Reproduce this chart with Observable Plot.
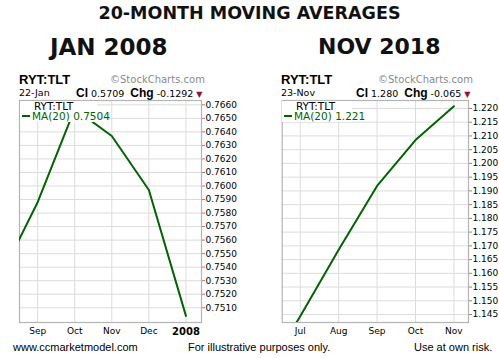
<!DOCTYPE html>
<html>
<head>
<meta charset="utf-8">
<script src="https://cdn.jsdelivr.net/npm/d3@7"></script>
<script src="https://cdn.jsdelivr.net/npm/@observablehq/plot@0.6"></script>
<style>
  html, body { margin: 0; padding: 0; background: #fff; }
  #wrap { position: relative; width: 499px; height: 359px; overflow: hidden; font-family: "Liberation Sans", Arial, sans-serif; }
  .abs { position: absolute; white-space: nowrap; line-height: 1; }
  .title { font-family: "DejaVu Sans", sans-serif; font-weight: bold; color: #111; }
  .sym { font-family: "Liberation Sans", Arial, sans-serif; font-weight: bold; font-size: 13px; color: #000; }
  .sc { font-family: "DejaVu Sans", sans-serif; font-size: 10px; color: #8a8a8a; }
  .date { font-family: "DejaVu Sans", sans-serif; font-size: 9.5px; color: #000; }
  .quote { font-family: "DejaVu Sans", sans-serif; font-size: 9.5px; color: #000; }
  .quote b { font-family: "Liberation Sans", Arial, sans-serif; font-size: 12px; }
  .tri { color: #8b1538; font-size: 8px; }
  .leg { font-family: "DejaVu Sans", sans-serif; font-size: 10.5px; }
  .legbox { background: #fff; }
  .dash { display: inline-block; width: 8px; height: 2px; background: #006400; vertical-align: middle; margin-right: 2px; position: relative; top: -1px; }
  .foot { font-family: "Liberation Sans", Arial, sans-serif; font-size: 11px; color: #000; }
  .chart { position: absolute; }
</style>
</head>
<body>
<div id="wrap">
  <div class="abs title" style="left:0;width:499px;text-align:center;top:5px;font-size:17.5px;">20-MONTH MOVING AVERAGES</div>
  <div class="abs title" style="left:50px;top:36px;font-size:23px;">JAN 2008</div>
  <div class="abs title" style="left:318px;top:36px;font-size:22px;">NOV 2018</div>

  <div class="abs sym" style="left:19px;top:73px;">RYT:TLT</div>
  <div class="abs sc" style="left:110px;top:75px;">©StockCharts.com</div>
  <div class="abs date" style="left:19px;top:88px;">22-Jan</div>
  <div class="abs quote" style="left:76px;top:87px;"><b>Cl</b> 0.5709 &nbsp;<b>Chg</b> -0.1292 <span class="tri">▼</span></div>

  <div class="abs sym" style="left:281px;top:73px;">RYT:TLT</div>
  <div class="abs sc" style="left:378px;top:75px;">©StockCharts.com</div>
  <div class="abs date" style="left:281px;top:88px;">23-Nov</div>
  <div class="abs quote" style="left:356px;top:87px;"><b>Cl</b> 1.280 &nbsp;<b>Chg</b> -0.065 <span class="tri">▼</span></div>

  <div id="left" class="chart" style="left:0;top:92px;"></div>
  <div id="right" class="chart" style="left:250px;top:92px;"></div>

  <div class="abs leg legbox" style="left:20px;top:100.5px;width:77px;height:21px;">
    <div style="padding-left:14px;color:#000;">RYT:TLT</div>
    <div style="padding-left:2px;color:#006400;margin-top:0px;"><span class="dash"></span>MA(20) 0.7504</div>
  </div>
  <div class="abs leg legbox" style="left:282px;top:100.5px;width:70px;height:21px;">
    <div style="padding-left:14px;color:#000;">RYT:TLT</div>
    <div style="padding-left:2px;color:#006400;margin-top:0px;"><span class="dash"></span>MA(20) 1.221</div>
  </div>

  <div class="abs foot" style="left:13px;top:342px;">www.ccmarketmodel.com</div>
  <div class="abs foot" style="left:188px;top:342px;">For illustrative purposes only.</div>
  <div class="abs foot" style="left:414px;top:342px;">Use at own risk.</div>
</div>
<script>
// ---- data ----
const leftMonths = ["Aug", "Sep", "Oct", "Nov", "Dec", "2008"];
const leftMA = [0.7533, 0.7588, 0.7657, 0.7637, 0.7597, 0.7504];
const leftYTicks = [0.7510, 0.7520, 0.7530, 0.7540, 0.7550, 0.7560, 0.7570, 0.7580,
                    0.7590, 0.7600, 0.7610, 0.7620, 0.7630, 0.7640, 0.7650, 0.7660];

const rightMonths = ["Jun", "Jul", "Aug", "Sep", "Oct", "Nov"];
const rightMA = [1.121, 1.1444, 1.1686, 1.1918, 1.2085, 1.2208];
const rightYTicks = [1.145, 1.150, 1.155, 1.160, 1.165, 1.170, 1.175, 1.180,
                     1.185, 1.190, 1.195, 1.200, 1.205, 1.210, 1.215, 1.220];

const lineColor = "#006400";
const gridColor = "#dcdcdc";
const frameColor = "#b4b4b4";

function makeChart({months, values, yTicks, fmt, xDomain, yDomain, width, marginLeft, marginRight, boldLabel}) {
  const data = values.map((v, i) => ({i, v}));
  const xt = d3.range(1, months.length);
  const svg = Plot.plot({
    width, height: 248,
    marginLeft, marginRight, marginTop: 8, marginBottom: 18,
    style: {fontFamily: "DejaVu Sans, sans-serif", fontSize: "9px", color: "#000", background: "transparent"},
    x: {domain: xDomain, ticks: xt, tickFormat: i => months[i], tickSize: 0, tickPadding: 5, label: null},
    y: {domain: yDomain, ticks: yTicks, tickFormat: fmt, axis: "right", tickSize: 3, tickPadding: 1, label: null},
    marks: [
      Plot.gridY(yTicks, {stroke: gridColor, strokeOpacity: 1}),
      Plot.gridX(xt, {stroke: gridColor, strokeOpacity: 1}),
      Plot.frame({stroke: frameColor, strokeWidth: 1.2}),
      Plot.line(data, {x: "i", y: "v", stroke: lineColor, strokeWidth: 2, clip: true})
    ]
  });
  if (boldLabel) {
    d3.select(svg).selectAll("text").filter(function() { return this.textContent === boldLabel; })
      .attr("font-weight", "bold").attr("font-size", "10px");
  }
  d3.select(svg).selectAll("[aria-label='y-axis tick']").attr("stroke", "#888");
  return svg;
}

document.getElementById("left").appendChild(makeChart({
  months: leftMonths, values: leftMA, yTicks: leftYTicks, fmt: ".4f",
  xDomain: [0.51, 5.42], yDomain: [0.74991, 0.76632],
  width: 250, marginLeft: 19, marginRight: 49, boldLabel: "2008"
}));
document.getElementById("right").appendChild(makeChart({
  months: rightMonths, values: rightMA, yTicks: rightYTicks, fmt: ".3f",
  xDomain: [0.53, 5.38], yDomain: [1.1421, 1.2229],
  width: 249, marginLeft: 31.7, marginRight: 31
}));
</script>
</body>
</html>
